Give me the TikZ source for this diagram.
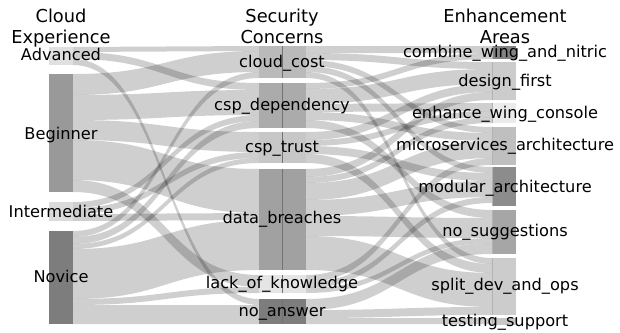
\documentclass[tikz,border=0pt]{standalone}
\usepackage{fontspec}
\setmainfont{DejaVu Sans}

\tikzset{
    flow/.style={fill=black, fill opacity=0.19},
    catbar/.style={rectangle, inner sep=0, draw=none},
    leftbar/.style={catbar, minimum width=24pt},
    midbar/.style={catbar, minimum width=47pt},
    rightbar/.style={catbar, minimum width=24pt},
    divider/.style={draw=black!55, line width=0.5pt},
    cat label/.style={font=\fontsize{16.2}{18}\selectfont, inner sep=0, anchor=base},
    dim title/.style={font=\fontsize{17.8}{20}\selectfont, inner sep=0, anchor=base}
    }

% ribbon from (x1, top1..bot1) to (x2, top2..bot2)
\newcommand{\ribbon}[6]{%
    \pgfmathsetmacro{\xm}{(#1+#4)/2}
    \fill[flow] (#1,#2) .. controls (\xm,#2) and (\xm,#5) .. (#4,#5) -- (#4,#6)
        .. controls (\xm,#6) and (\xm,#3) .. (#1,#3) -- cycle;
}

\begin{document}
\begin{tikzpicture}[x=1pt, y=-1pt]
    \useasboundingbox (0,0) rectangle (620,332);

    % experience -> concerns
    \foreach \a/\b/\c/\d in {47/52/46/51, 52/59/83/90, 59/65/299/305,
            74/95/51/72, 95/120/90/115, 120/140/132/152, 140/180/169/213, 180/192/275/287,
            202/208/115/121, 208/214/152/158, 214/221/213/220,
            231/237/72/78, 237/244/121/128, 244/249/158/163, 249/299/220/270,
            299/305/287/293, 305/324/305/324}
        {\ribbon{73}{\a}{\b}{259}{\c}{\d}}

    % concerns -> enhancements
    \foreach \a/\b/\c/\d in {46/53/46/53, 53/60/62/69, 60/66/127/133, 66/72/167/173, 72/78/258/264,
            83/89/53/59, 89/104/69/84, 104/112/103/111, 112/120/133/141, 120/128/210/218,
            132/140/84/92, 140/146/111/117, 146/154/173/181, 154/163/264/273,
            169/177/92/100, 177/183/117/123, 183/200/141/158, 200/216/181/197, 216/236/218/238, 236/270/273/307,
            275/282/158/165, 282/288/197/203, 288/293/238/243,
            299/310/243/254, 310/318/307/315, 318/324/318/324}
        {\ribbon{306}{\a}{\b}{492}{\c}{\d}}

    % cloud experience
    \node[leftbar, minimum height=18pt, fill=black!12] (advanced) at (61,56) {};
    \node[leftbar, minimum height=118pt, fill=black!40] (beginner) at (61,133) {};
    \node[leftbar, minimum height=19pt, fill=black!14] (intermediate) at (61,211.5) {};
    \node[leftbar, minimum height=93pt, fill=black!51] (novice) at (61,277.5) {};

    % security concerns
    \node[midbar, minimum height=32pt, fill=black!27] (cloudcost) at (282.5,62) {};
    \node[midbar, minimum height=45pt, fill=black!33] (cspdep) at (282.5,105.5) {};
    \node[midbar, minimum height=31pt, fill=black!22] (csptrust) at (282.5,147.5) {};
    \node[midbar, minimum height=101pt, fill=black!37] (breaches) at (282.5,219.5) {};
    \node[midbar, minimum height=18pt, fill=black!10] (lack) at (282.5,284) {};
    \node[midbar, minimum height=25pt, fill=black!51] (noanswer) at (282.5,311.5) {};
    \foreach \n in {cloudcost, cspdep, csptrust, breaches, lack, noanswer}
        \draw[divider] (\n.north) -- (\n.south);

    % enhancement areas
    \node[rightbar, minimum height=13pt, fill=black!49] (combine) at (504,52.5) {};
    \node[rightbar, minimum height=38pt, fill=black!20] (design) at (504,81) {};
    \node[rightbar, minimum height=20pt, fill=black!8] (console) at (504,113) {};
    \node[rightbar, minimum height=38pt, fill=black!25] (micro) at (504,146) {};
    \node[rightbar, minimum height=39pt, fill=black!45] (modular) at (504,186.5) {};
    \node[rightbar, minimum height=44pt, fill=black!35] (nosugg) at (504,232) {};
    \node[rightbar, minimum height=57pt, fill=black!20] (split) at (504,286.5) {};
    \node[rightbar, minimum height=7pt, fill=black!22] (testing) at (504,321) {};
    \foreach \n in {combine, design, console, micro, modular, nosugg, split, testing}
        \draw[divider, draw=black!30] (\n.north west) -- (\n.south west);

    % titles
    \node[dim title] (expT) at (61,22) {Cloud};
    \node[dim title] (expB) at (61,43) {Experience};
    \node[dim title] (secT) at (282,22) {Security};
    \node[dim title] (secB) at (282,43) {Concerns};
    \node[dim title] (enhT) at (505,22) {Enhancement};
    \node[dim title] (enhB) at (505,43) {Areas};

    % category labels
    \node[cat label] at (61,60) {Advanced};
    \node[cat label] at (61,139) {Beginner};
    \node[cat label] at (61,217) {Intermediate};
    \node[cat label] at (61,282) {Novice};

    \node[cat label] at (282,67) {cloud\_cost};
    \node[cat label] at (282,110) {csp\_dependency};
    \node[cat label] at (282,152) {csp\_trust};
    \node[cat label] at (282,223) {data\_breaches};
    \node[cat label] at (282,288) {lack\_of\_knowledge};
    \node[cat label] at (282,316) {no\_answer};

    \node[cat label] at (505,57) {combine\_wing\_and\_nitric};
    \node[cat label] at (505,86) {design\_first};
    \node[cat label] at (505,118) {enhance\_wing\_console};
    \node[cat label] at (505,150) {microservices\_architecture};
    \node[cat label] at (505,192) {modular\_architecture};
    \node[cat label] at (505,236) {no\_suggestions};
    \node[cat label] at (505,290) {split\_dev\_and\_ops};
    \node[cat label] at (505,326) {testing\_support};
\end{tikzpicture}
\end{document}
